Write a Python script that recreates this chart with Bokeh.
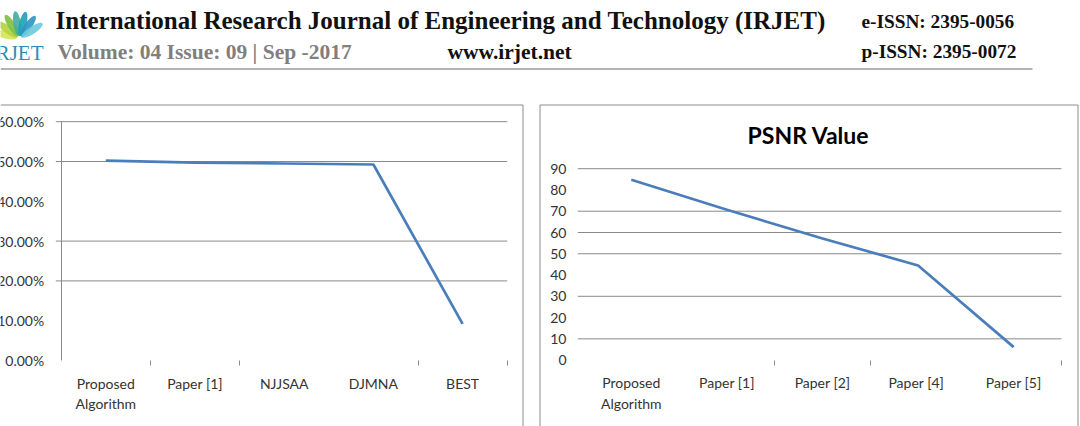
import math

from bokeh.core.properties import value
from bokeh.embed import file_html
from bokeh.models import FixedTicker, LinearAxis, NumeralTickFormatter, Range1d
from bokeh.plotting import figure
from bokeh.resources import INLINE

# ---------------------------------------------------------------- data
acc_categories = ["Proposed\nAlgorithm", "Paper [1]", "NJJSAA", "DJMNA", "BEST"]
acc_values = [0.502, 0.497, 0.495, 0.4925, 0.092]
acc_ticks = [0.0, 0.1, 0.2, 0.3, 0.4, 0.5, 0.6]
acc_grid = [0.2, 0.3, 0.5, 0.6]

psnr_title = "PSNR Value"
psnr_categories = ["Proposed\nAlgorithm", "Paper [1]", "Paper [2]", "Paper  [4]", "Paper [5]"]
psnr_values = [84.8, 70.7, 57.2, 44.5, 6.1]
psnr_ticks = [0, 10, 20, 30, 40, 50, 60, 70, 80, 90]
psnr_grid = [10, 30, 50, 60, 70, 90]

journal = "International Research Journal of Engineering and Technology (IRJET)"
volume = "Volume: 04 Issue: 09 | Sep -2017"
site = "www.irjet.net"
e_issn = "e-ISSN: 2395-0056"
p_issn = "p-ISSN: 2395-0072"

# ---------------------------------------------------------------- page
W, H = 1080, 426
LINE = "#4a7ebb"
GRID = "#8a8a8a"
TEXT = "#333333"

p = figure(width=W, height=H, x_range=Range1d(0, W), y_range=Range1d(H, 0),
           x_axis_type=None, y_axis_type=None, output_backend="svg",
           toolbar_location=None, min_border=0)
p.grid.visible = False
p.outline_line_color = None
p.background_fill_color = "white"
p.border_fill_color = "white"


def pixel_range(v0, px0, v1, px1, lo_px, hi_px):
    """Range whose start sits at lo_px and end at hi_px of the page."""
    k = (v1 - v0) / (px1 - px0)
    return Range1d(v0 + (lo_px - px0) * k, v0 + (hi_px - px0) * k)


n_acc = len(acc_values)
n_psnr = len(psnr_values)

# plot areas of the two charts, in page pixels
p.extra_x_ranges = {
    "acc_x": pixel_range(-0.5, 60.7, n_acc - 0.5, 506.7, 0, W),
    "psnr_x": pixel_range(-0.5, 583.0, n_psnr - 0.5, 1061.0, 0, W),
}
p.extra_y_ranges = {
    "acc_y": pixel_range(0.0, 360.0, 0.6, 121.2, H, 0),
    "psnr_y": pixel_range(0, 359.6, 90, 168.2, H, 0),
}

# ---------------------------------------------------------------- header
serif = value("Liberation Serif")

# logo fan
fan_angles = [165, 143, 121, 99, 77, 55, 33]
fan_colors = ["#d6e35a", "#b3d33a", "#7cc143", "#3fae9c", "#1fa0b8", "#2a95c4", "#6ccbdc"]
cx, cy = 19.0, 38.0
p.ellipse(x=[cx + 15 * math.cos(math.radians(a)) for a in fan_angles],
          y=[cy - 15 * math.sin(math.radians(a)) for a in fan_angles],
          width=25, height=7.5, angle=[math.radians(a) for a in fan_angles],
          fill_color=fan_colors, line_color=None, fill_alpha=0.9)
p.text(x=[43], y=[52], text=["IRJET"], text_font=serif, text_font_size="21px",
       text_color="#2f8db5", text_align="right", text_baseline="alphabetic")

p.text(x=[55], y=[20], text=[journal], text_font=serif, text_font_style="bold",
       text_font_size="25px", text_color="#111111", text_baseline="alphabetic")
p.text(x=[57], y=[51.5], text=[volume], text_font=serif, text_font_style="bold",
       text_font_size="21.5px", text_color="#7f7f7f", text_baseline="alphabetic")
p.text(x=[447], y=[51.5], text=[site], text_font=serif, text_font_style="bold",
       text_font_size="21.5px", text_color="#111111", text_baseline="alphabetic")
p.text(x=[861, 861], y=[20.5, 51], text=[e_issn, p_issn], text_font=serif,
       text_font_style="bold", text_font_size="19.3px", text_color="#111111",
       text_baseline="alphabetic")
p.segment(x0=[0], y0=[68.5], x1=[1032], y1=[68.5], line_color="#9a9a9a", line_width=1.5)

# chart frames
p.segment(x0=[0, 522.5, 539.5, 539.5, 1077.5],
          y0=[104.5, 104.5, 104.5, 104.5, 104.5],
          x1=[522.5, 522.5, 1077.5, 539.5, 1077.5],
          y1=[104.5, H, 104.5, H, H],
          line_color="#8c8c8c", line_width=1)

p.text(x=[808], y=[134], text=[psnr_title], text_font=value("Lato"),
       text_font_style="bold", text_font_size="23px", text_color="#000000",
       text_align="center", text_baseline="middle")

# ---------------------------------------------------------------- charts
LABEL_FONT = "Lato"


def chart(xr, yr, cats, vals, ticks, grid, fmt, y_line, minor):
    n = len(vals)
    p.segment(x0=-0.56, x1=n - 0.5, y0=grid, y1=grid, x_range_name=xr,
              y_range_name=yr, line_color=GRID, line_width=1)
    p.line(x=list(range(n)), y=vals, x_range_name=xr, y_range_name=yr,
           line_color=LINE, line_width=2.7, line_join="round")

    ya = LinearAxis(x_range_name=xr, y_range_name=yr, fixed_location=-0.5,
                    bounds=(ticks[0], ticks[-1]), ticker=FixedTicker(ticks=ticks))
    if fmt is not None:
        ya.formatter = fmt
    ya.axis_line_color = GRID if y_line else None
    ya.major_tick_line_color = None
    ya.minor_tick_line_color = None
    ya.major_label_standoff = 11
    ya.major_label_text_font = LABEL_FONT
    ya.major_label_text_font_size = "14px"
    ya.major_label_text_color = TEXT
    p.add_layout(ya, "left")

    xa = LinearAxis(x_range_name=xr, y_range_name=yr, fixed_location=ticks[0],
                    bounds=(-0.5, n - 0.5),
                    ticker=FixedTicker(ticks=list(range(n)), minor_ticks=minor),
                    major_label_overrides={i: c for i, c in enumerate(cats)})
    xa.axis_line_color = None
    xa.major_tick_line_color = None
    xa.minor_tick_line_color = GRID
    xa.minor_tick_in = 0
    xa.minor_tick_out = 5
    xa.major_label_standoff = 8
    xa.major_label_text_font = LABEL_FONT
    xa.major_label_text_font_size = "14px"
    xa.major_label_text_color = TEXT
    p.add_layout(xa, "below")


chart("acc_x", "acc_y", acc_categories, acc_values, acc_ticks, acc_grid,
      NumeralTickFormatter(format="0.00%"), True, [0.5, 1.5, 3.5, 4.5])
chart("psnr_x", "psnr_y", psnr_categories, psnr_values, psnr_ticks, psnr_grid,
      None, False, [1.5, 2.5, 4.5])

open("out.html", "w").write(file_html(p, INLINE))
